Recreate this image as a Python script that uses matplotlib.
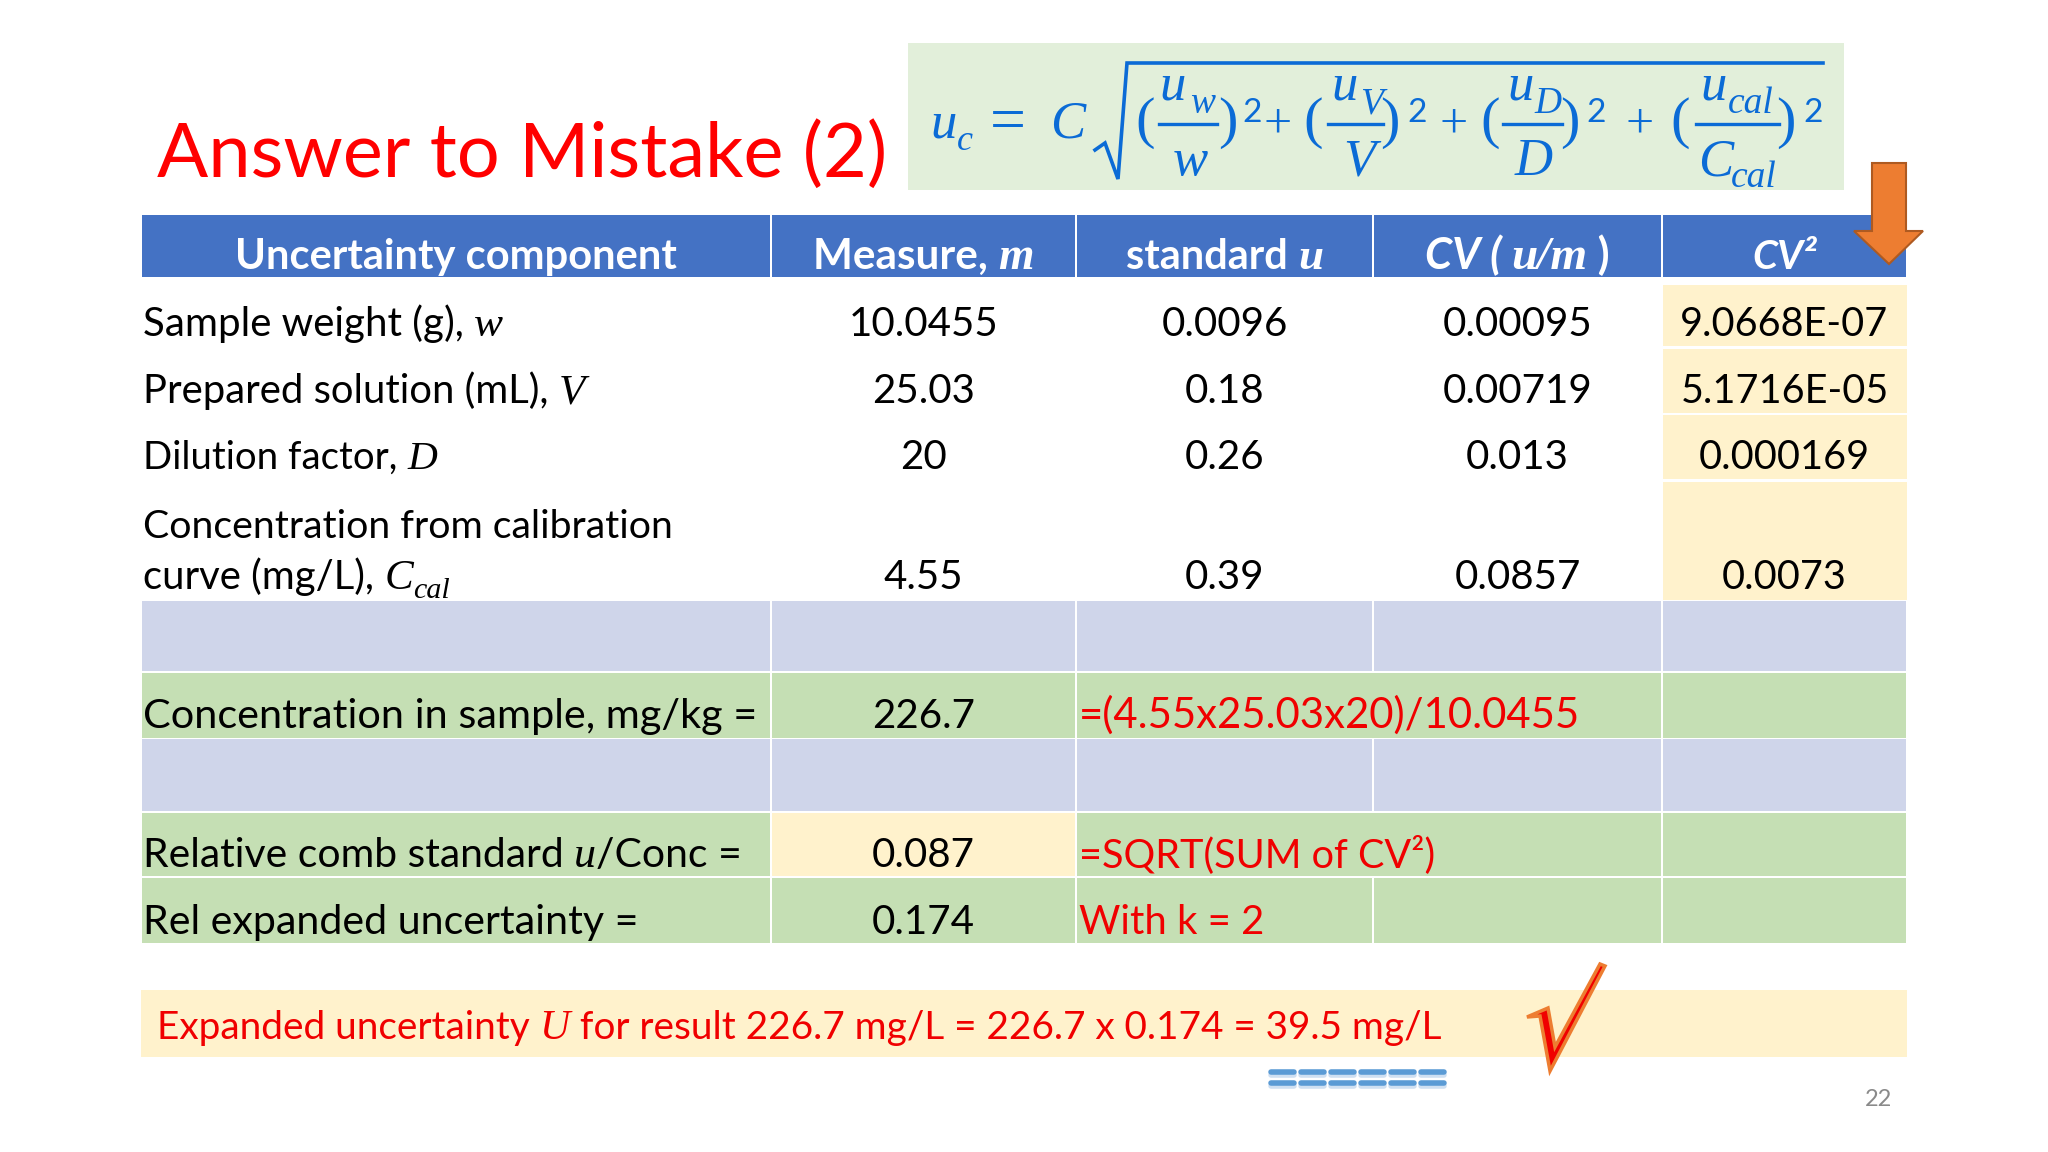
import matplotlib
matplotlib.use("Agg")
import matplotlib.pyplot as plt
from matplotlib.patches import Rectangle, Polygon

# table content
headers = [
    [("Uncertainty component", "b")],
    [("Measure, ", "b"), ("m", "ib")],
    [("standard ", "b"), ("u", "ib")],
    [("CV ( ", "bi"), ("u/m", "ib"), (" )", "b")],
    [("CV²", "bi")],
]
components = [
    [("Sample weight (g), ", "r"), ("w", "i")],
    [("Prepared solution (mL), ", "r"), ("V", "i")],
    [("Dilution factor, ", "r"), ("D", "i")],
    [("curve (mg/L), ", "r"), ("C", "i"), ("cal", "sub")],
]
measures = ["10.0455", "25.03", "20", "4.55"]
std_u = ["0.0096", "0.18", "0.26", "0.39"]
cv = ["0.00095", "0.00719", "0.013", "0.0857"]
cv2 = ["9.0668E-07", "5.1716E-05", "0.000169", "0.0073"]

summary_labels = [
    [("Concentration in sample, mg/kg =", "r")],
    [("Relative comb standard ", "r"), ("u", "i"), ("/Conc =", "r")],
    [("Rel expanded uncertainty =", "r")],
]
summary_values = ["226.7", "0.087", "0.174"]
summary_notes = ["=(4.55x25.03x20)/10.0455", "=SQRT(SUM of CV²)", "With k = 2"]
result_line = [
    ("Expanded uncertainty ", "r"),
    ("U", "i"),
    (" for result 226.7 mg/L = 226.7 x 0.174 = 39.5 mg/L", "r"),
]

# slide layout, in pixels
col_x = [141, 771, 1076, 1373, 1662, 1907]
body_base = [336, 403, 469, 589]
body_size = [29, 28.8, 27.6, 28.8]
cv2_rows = [(285, 346), (349, 413), (415, 479), (482, 600)]
summary_base = [728, 867, 934]
summary_size = [29.8, 29.4, 29.6]
note_size = [30.2, 28.5, 28.8]
header_size = [30, 30.4, 30, 31.5, 29]

BLUE = "#4472C4"
LAV = "#CFD5EA"
GREEN = "#C5DFB4"
YELLOW = "#FFF2CC"
RED = "#F00000"
MATH = "#0B6BD6"

fig = plt.figure(figsize=(20.48, 11.52), dpi=100)
ax = fig.add_axes([0, 0, 1, 1])
ax.set_xlim(0, 2048)
ax.set_ylim(1152, 0)
ax.axis("off")
renderer = fig.canvas.get_renderer()


def box(x0, x1, y0, y1, color, z=1):
    ax.add_patch(Rectangle((x0, y0), x1 - x0, y1 - y0, fc=color, ec="none", zorder=z))


def run_props(kind, size):
    # returns font options and baseline shift
    if kind == "r":
        return dict(family="Lato", fontsize=size), 0
    if kind == "b":
        return dict(family="Lato", fontweight="bold", fontsize=size), 0
    if kind == "bi":
        return dict(family="Lato", fontweight="bold", fontstyle="italic", fontsize=size), 0
    if kind == "i":
        return dict(family="Liberation Serif", fontstyle="italic", fontsize=size * 1.08), 0
    if kind == "ib":
        return dict(family="Liberation Serif", fontstyle="italic", fontweight="bold",
                    fontsize=size * 1.08), 0
    return dict(family="Liberation Serif", fontstyle="italic", fontsize=size * 0.75), 9


def draw_runs(x, y, runs, size=29, color="black", align="left"):
    # lays out mixed-font text on one baseline
    items = []
    total = 0
    for txt, kind in runs:
        props, dy = run_props(kind, size)
        t = ax.text(0, y + dy, txt, color=color, va="baseline", ha="left", zorder=5, **props)
        items.append((t, total))
        total += t.get_window_extent(renderer).width
    x0 = x - total / 2 if align == "center" else x
    for t, off in items:
        t.set_x(x0 + off)


def center(i):
    return (col_x[i] + col_x[i + 1]) / 2


# header
for i in range(5):
    box(col_x[i] + 1, col_x[i + 1] - 1, 215, 277, BLUE)
    draw_runs(center(i), 269, headers[i], size=header_size[i], color="white", align="center")

# yellow CV2 cells
for (y0, y1) in cv2_rows:
    box(col_x[4] + 1, col_x[5], y0, y1, YELLOW)

# measured rows
for r in range(4):
    draw_runs(143, body_base[r], components[r], size=body_size[r])
    for c, vals in enumerate([measures, std_u, cv]):
        draw_runs(center(c + 1), body_base[r], [(vals[r], "r")], align="center")
    draw_runs(center(4), body_base[r], [(cv2[r], "r")], size=28.5, align="center")
draw_runs(143, 538, [("Concentration from calibration", "r")], size=28.3)

# lower bands
for y0, y1 in [(601, 671), (739, 811)]:
    for i in range(5):
        box(col_x[i] + 1, col_x[i + 1] - 1, y0, y1, LAV)
for y0, y1, merged in [(673, 738, True), (813, 876, True), (878, 943, False)]:
    spans = [(0, 1), (1, 2), (2, 4), (4, 5)] if merged else [(0, 1), (1, 2), (2, 3), (3, 4), (4, 5)]
    for a, b in spans:
        box(col_x[a] + 1, col_x[b] - 1, y0, y1, GREEN)
box(col_x[1] + 1, col_x[2] - 1, 813, 876, YELLOW, z=2)

for r in range(3):
    draw_runs(143, summary_base[r], summary_labels[r], size=summary_size[r])
    draw_runs(center(1), summary_base[r], [(summary_values[r], "r")], align="center")
    draw_runs(1079, summary_base[r], [(summary_notes[r], "r")], size=note_size[r], color=RED)

# result band
box(141, 1907, 990, 1057, YELLOW)
draw_runs(157, 1039, result_line, size=27.9, color=RED)

# title
ax.text(157, 177, "Answer to Mistake (2)", family="Lato", fontsize=54.5, color="#FF0000",
        va="baseline", ha="left", zorder=5)

# formula box
box(908, 1844, 43, 190, "#E2EFDA")


def m(x, y, s, size=38, style="italic", family="Liberation Serif"):
    ax.text(x, y, s, family=family, fontstyle=style, fontsize=size, color=MATH,
            va="baseline", ha="left", zorder=5)


m(930, 138, "u")
m(957, 150, "c", 26)
m(990, 140, "=", 46, "normal")
m(1050, 138, "C")
ax.plot([1095, 1105, 1118, 1127, 1823], [150, 143, 179, 63, 63], color=MATH, lw=2.6,
        solid_joinstyle="miter", zorder=5)

fracs = [
    (1159, 1217, 1159, 1190, "w", 1173, "w", None, 1135, 1218, 1242),
    (1328, 1383, 1331, 1360, "V", 1343, "V", None, 1303, 1380, 1407),
    (1503, 1562, 1507, 1534, "D", 1515, "D", None, 1480, 1560, 1586),
    (1696, 1779, 1700, 1728, "cal", 1698, "C", "cal", 1670, 1776, 1803),
]
for x0, x1, ux, subx, sub, dx, den, densub, lp, rp, sup in fracs:
    ax.plot([x0, x1], [124, 124], color=MATH, lw=2.4, zorder=5)
    m(ux, 100, "u")
    m(subx, 113, sub, 27)
    m(dx, 175, den)
    if densub:
        m(dx + 33, 187, densub, 27)
    m(lp, 137, "(", 42, "normal")
    m(rp, 137, ")", 42, "normal")
    m(sup, 122, "2", 24, "normal", "Lato")
for px in [1263, 1440, 1625]:
    m(px, 137, "+", 36, "normal")

# arrow
ax.add_patch(Polygon([(1872, 163), (1906, 163), (1906, 231), (1923, 231), (1889, 264),
                      (1854, 231), (1872, 231)], closed=True, fc="#ED7D31", ec="#AE5A21",
                     lw=1.5, zorder=6))

# check mark
ax.add_patch(Polygon([(1527, 1017), (1548, 1008), (1555, 1047), (1600, 964), (1605, 966),
                      (1550, 1071), (1540, 1016)], closed=True, fc="#F00000", ec="#ED7D31",
                     lw=2.5, zorder=6))

# spell-check underlines
for row_y in [1072, 1083]:
    for k in range(6):
        x = 1271 + 30 * k
        ax.plot([x, x + 23], [row_y + 3, row_y + 3], color="#CFE0F2", lw=4,
                solid_capstyle="round", zorder=3)
        ax.plot([x, x + 23], [row_y, row_y], color="#5B9BD5", lw=4,
                solid_capstyle="round", zorder=4)

ax.text(1878, 1100, "22", family="Lato", fontsize=17, color="#8A8A8A", ha="center", va="center")

fig.savefig("out.png", dpi=100, facecolor="white")
